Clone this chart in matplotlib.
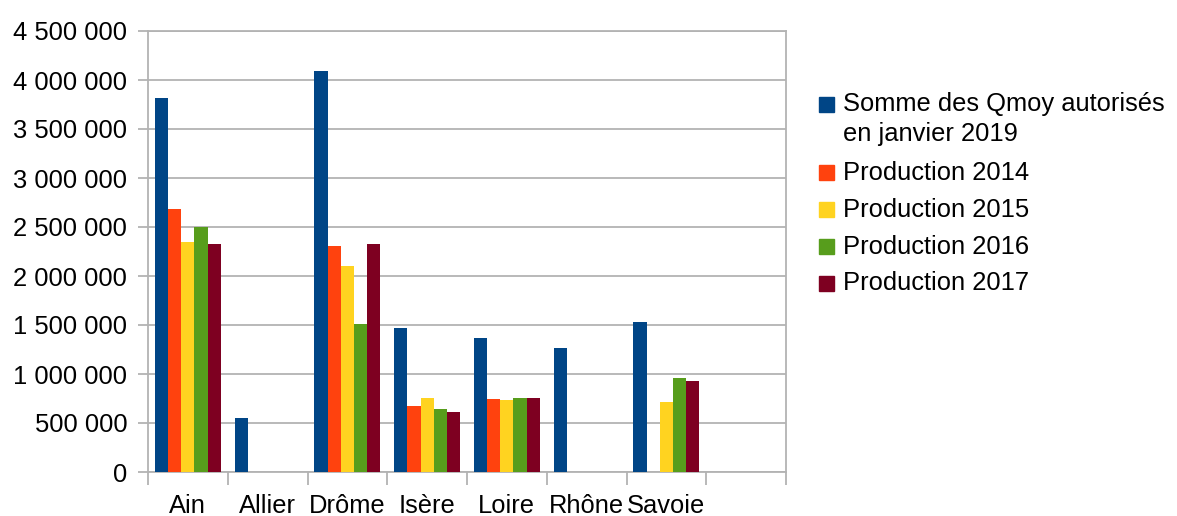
import numpy as np
import matplotlib
matplotlib.use("Agg")
import matplotlib.pyplot as plt
from matplotlib.patches import Rectangle
from matplotlib.ticker import FuncFormatter, FixedLocator

plt.rcParams['font.family'] = ['Liberation Sans', 'DejaVu Sans']

# data
categories = ["Ain", "Allier", "Drôme", "Isère", "Loire", "Rhône", "Savoie", ""]
qmoy_2019 = [3820000, 554000, 4090000, 1470000, 1370000, 1270000, 1534000, np.nan]
prod_2014 = [2680000, np.nan, 2310000, 677000, 741000, np.nan, np.nan, np.nan]
prod_2015 = [2350000, np.nan, 2105000, 758000, 738000, np.nan, 717000, np.nan]
prod_2016 = [2500000, np.nan, 1510000, 640000, 758000, np.nan, 962000, np.nan]
prod_2017 = [2330000, np.nan, 2330000, 615000, 760000, np.nan, 925000, np.nan]

series = [qmoy_2019, prod_2014, prod_2015, prod_2016, prod_2017]
labels = ["Somme des Qmoy autorisés\nen janvier 2019", "Production 2014",
          "Production 2015", "Production 2016", "Production 2017"]
colors = ["#004586", "#ff420e", "#ffd320", "#579d1c", "#7e0021"]

W, H = 1177, 516
fig = plt.figure(figsize=(W / 100, H / 100), dpi=100)
ax = fig.add_axes([148 / W, 1 - 472 / H, (786 - 148) / W, (472 - 31) / H])

x = np.arange(len(categories))
bw = 0.166
for i, vals in enumerate(series):
    ax.bar(x + (i - 2) * bw, vals, width=bw, color=colors[i], zorder=3)

ax.set_xlim(-0.5, len(categories) - 0.5)
ax.set_ylim(0, 4500000)
ax.set_yticks(np.arange(0, 4500001, 500000))
ax.yaxis.set_major_formatter(FuncFormatter(lambda v, p: f"{v:,.0f}".replace(",", " ")))
ax.grid(axis="y", color="#b3b3b3", linewidth=1.3, zorder=0)

ax.set_xticks(x)
ax.set_xticklabels(categories)
ax.xaxis.set_minor_locator(FixedLocator(np.arange(-0.5, len(categories), 1)))
ax.tick_params(axis="x", which="major", length=0, pad=16, labelsize=18.4)
ax.tick_params(axis="x", which="minor", length=9, width=1.3, color="#b3b3b3")
ax.tick_params(axis="y", length=7, width=1.3, color="#b3b3b3", pad=8, labelsize=18.4)

for s in ax.spines.values():
    s.set_color("#b3b3b3")
    s.set_linewidth(1.3)

# legend drawn by hand
baselines = [111.5, 179.5, 216.5, 253.5, 290.5]
for i, lab in enumerate(labels):
    yb = baselines[i]
    fig.patches.append(Rectangle((819 / W, 1 - (yb + 0.5) / H), 15 / W, 15 / H,
                                 transform=fig.transFigure, color=colors[i]))
    for j, line in enumerate(lab.split("\n")):
        fig.text(843 / W, 1 - (yb + j * 30) / H, line, fontsize=18.4,
                 va="baseline", ha="left", color="black")

fig.savefig("out.png", dpi=100)
